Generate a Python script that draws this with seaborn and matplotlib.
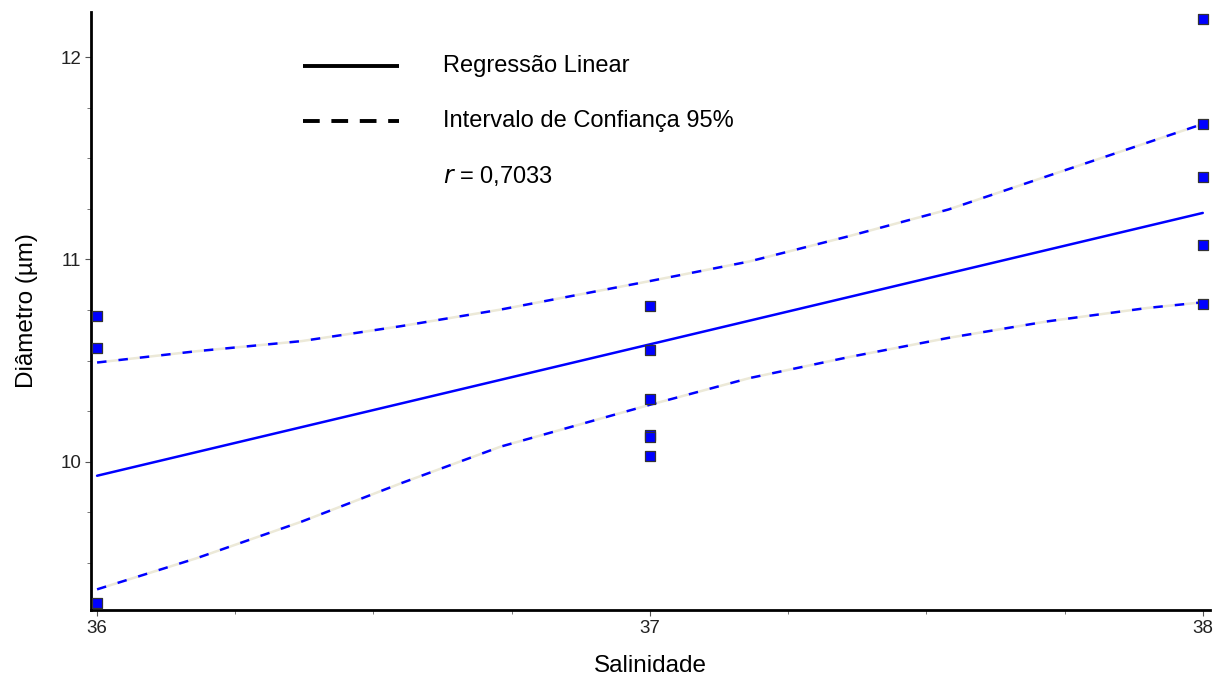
import pandas as pd
import matplotlib
matplotlib.use("Agg")
import matplotlib.pyplot as plt
import seaborn as sns

# observed points (salinity, diameter)
salinidade = [36, 36, 36, 37, 37, 37, 37, 37, 37, 38, 38, 38, 38, 38]
diametro = [10.72, 10.56, 9.30, 10.77, 10.55, 10.31, 10.13, 10.12, 10.03,
            12.19, 11.67, 11.41, 11.07, 10.78]

# fitted line end points
reg_x = [36.0, 38.0]
reg_y = [9.93, 11.23]

# 95% confidence band
ci_x = [36.0, 36.18, 36.37, 36.55, 36.73, 37.0, 37.18, 37.36, 37.54, 37.72, 37.9, 38.0]
ci_upper = [10.49, 10.546, 10.596, 10.67, 10.752, 10.893, 10.99, 11.115, 11.247,
            11.413, 11.578, 11.67]
ci_lower = [9.368, 9.522, 9.703, 9.893, 10.074, 10.281, 10.413, 10.517, 10.612,
            10.694, 10.760, 10.788]

r_text = "0,7033"


def main():
    sns.set_style("white")
    plt.rcParams['font.family'] = ['Liberation Sans', 'DejaVu Sans']
    plt.rcParams['text.color'] = 'black'
    plt.rcParams['axes.labelcolor'] = 'black'

    pts = pd.DataFrame({'sal': salinidade, 'diam': diametro})
    reg = pd.DataFrame({'x': reg_x, 'y': reg_y})
    band = pd.DataFrame({'x': ci_x, 'up': ci_upper, 'lo': ci_lower})

    fig = plt.figure(figsize=(12.18, 6.77), dpi=100)
    ax = fig.add_axes([0.0747, 0.099, 0.9187, 0.8833])

    dash = (0, (3.8, 4.8))
    for col in ['up', 'lo']:
        sns.lineplot(data=band, x='x', y=col, ax=ax, color='#0000FF', lw=1.8,
                     linestyle=dash, gapcolor='#ECE9D8', estimator=None,
                     sort=False, zorder=2)
    sns.lineplot(data=reg, x='x', y='y', ax=ax, color='#0000FF', lw=1.8,
                 estimator=None, sort=False, zorder=3)
    sns.scatterplot(data=pts, x='sal', y='diam', ax=ax, marker='s', s=62,
                    color='#0000FF', edgecolor='#333333', linewidth=0.9,
                    zorder=4, clip_on=False)

    ax.set_xlim(35.989, 38.013)
    ax.set_ylim(9.266, 12.224)
    ax.set_xticks([36, 37, 38])
    ax.set_yticks([10, 11, 12])
    ax.set_xticks([36.25, 36.5, 36.75, 37.25, 37.5, 37.75], minor=True)
    ax.set_yticks([9.5, 9.75, 10.25, 10.5, 10.75, 11.25, 11.5, 11.75], minor=True)
    ax.tick_params(which='major', direction='out', length=4, width=0.8,
                   color='#555555', labelsize=13.5, labelcolor='#222222', pad=3,
                   bottom=True, left=True)
    ax.tick_params(which='minor', direction='out', length=3, width=0.7,
                   color='#777777', bottom=True, left=True)

    sns.despine(ax=ax)
    for side in ['left', 'bottom']:
        ax.spines[side].set_linewidth(2)
        ax.spines[side].set_color('black')

    ax.set_xlabel("Salinidade", fontsize=17.5, labelpad=13)
    ax.set_ylabel("Diâmetro (µm)", fontsize=17.5, labelpad=16)

    # legend drawn by hand, as in the original figure
    ax.plot([0.1896, 0.2755], [0.9097, 0.9097], transform=ax.transAxes,
            color='black', lw=2.8, solid_capstyle='butt')
    ax.plot([0.1896, 0.2755], [0.8182, 0.8182], transform=ax.transAxes,
            color='black', lw=2.8, linestyle=(0, (4.3, 3.0)), dash_capstyle='butt')
    ax.text(0.3149, 0.9097, "Regressão Linear", transform=ax.transAxes,
            fontsize=17, va='center', ha='left')
    ax.text(0.3149, 0.8182, "Intervalo de Confiança 95%", transform=ax.transAxes,
            fontsize=17, va='center', ha='left')
    ax.text(0.3149, 0.7249, r"$\it{r}$ = " + r_text, transform=ax.transAxes,
            fontsize=17, va='center', ha='left')

    fig.savefig("out.png", dpi=100)


if __name__ == "__main__":
    main()
